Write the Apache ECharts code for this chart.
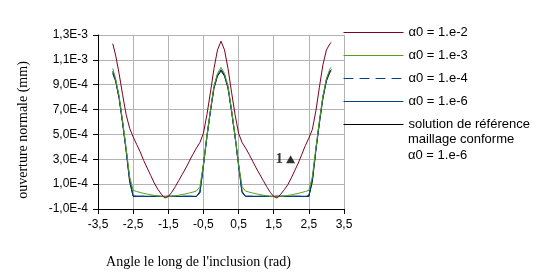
<!DOCTYPE html>
<html>
<head>
<meta charset="utf-8">
<script src="https://cdn.jsdelivr.net/npm/echarts@6/dist/echarts.min.js"></script>
<style>
html,body{margin:0;padding:0;background:#fff;}
#c{width:538px;height:277px;}
</style>
</head>
<body>
<div id="c"></div>
<script>
// Angles (rad)
const angles = [-3.08, -3.0, -2.9, -2.8, -2.7, -2.6, -2.5, -2.4, -2.3, -2.2, -2.1, -2.0, -1.9, -1.8, -1.7, -1.6,
  -1.5, -1.4, -1.3, -1.2, -1.1, -1.0, -0.9, -0.8, -0.7, -0.6, -0.5, -0.4, -0.3, -0.2, -0.1, 0.0,
  0.1, 0.2, 0.3, 0.4, 0.5, 0.6, 0.7, 0.8, 0.9, 1.0, 1.1, 1.2, 1.3, 1.4, 1.5, 1.6,
  1.7, 1.8, 1.9, 2.0, 2.1, 2.2, 2.3, 2.4, 2.5, 2.6, 2.7, 2.8, 2.9, 3.0, 3.1, 3.14];

// ouverture normale (mm)
const alpha_1e2 = [12.3e-4, 11.4e-4, 9.9e-4, 8.2e-4, 6.6e-4, 5.5e-4, 4.8e-4, 4.2e-4, 3.6e-4, 2.9e-4, 2.3e-4, 1.7e-4, 1.1e-4, 0.6e-4, 0.2e-4, -0.12e-4,
  0.0, 0.35e-4, 0.8e-4, 1.3e-4, 1.8e-4, 2.3e-4, 2.85e-4, 3.4e-4, 3.9e-4, 4.35e-4, 5.1e-4, 6.6e-4, 8.4e-4, 10.3e-4, 11.8e-4, 12.5e-4,
  11.8e-4, 10.3e-4, 8.4e-4, 6.6e-4, 5.1e-4, 4.35e-4, 3.9e-4, 3.4e-4, 2.85e-4, 2.3e-4, 1.8e-4, 1.3e-4, 0.8e-4, 0.35e-4, 0.0, -0.12e-4,
  0.2e-4, 0.55e-4, 0.95e-4, 1.5e-4, 2.1e-4, 2.7e-4, 3.4e-4, 4.1e-4, 4.7e-4, 5.4e-4, 6.9e-4, 8.8e-4, 10.6e-4, 11.8e-4, 12.3e-4, 12.4e-4];

const alpha_1e3 = [10.3e-4, 9.5e-4, 8.1e-4, 6.1e-4, 3.9e-4, 1.6e-4, 0.5e-4, 0.41e-4, 0.33e-4, 0.26e-4, 0.2e-4, 0.14e-4, 0.09e-4, 0.05e-4, 0.02e-4, 0.0,
  0.0, 0.03e-4, 0.06e-4, 0.11e-4, 0.17e-4, 0.22e-4, 0.29e-4, 0.36e-4, 0.44e-4, 0.8e-4, 2.6e-4, 4.9e-4, 7.0e-4, 8.9e-4, 9.9e-4, 10.4e-4,
  9.9e-4, 8.9e-4, 7.0e-4, 4.9e-4, 2.6e-4, 0.8e-4, 0.44e-4, 0.36e-4, 0.29e-4, 0.22e-4, 0.17e-4, 0.11e-4, 0.06e-4, 0.03e-4, 0.0, 0.0,
  0.02e-4, 0.05e-4, 0.09e-4, 0.14e-4, 0.2e-4, 0.26e-4, 0.33e-4, 0.41e-4, 0.5e-4, 1.6e-4, 3.9e-4, 6.1e-4, 8.1e-4, 9.5e-4, 10.3e-4, 10.4e-4];

const alpha_1e4 = [10.1e-4, 9.4e-4, 8.0e-4, 6.0e-4, 3.8e-4, 1.4e-4, 0.06e-4, 0.03e-4, 0.03e-4, 0.03e-4, 0.03e-4, 0.03e-4, 0.03e-4, 0.03e-4, 0.03e-4, 0.03e-4,
  0.03e-4, 0.03e-4, 0.03e-4, 0.03e-4, 0.03e-4, 0.03e-4, 0.03e-4, 0.03e-4, 0.03e-4, 0.3e-4, 2.5e-4, 4.8e-4, 6.9e-4, 8.8e-4, 9.8e-4, 10.2e-4,
  9.8e-4, 8.8e-4, 6.9e-4, 4.8e-4, 2.5e-4, 0.3e-4, 0.03e-4, 0.03e-4, 0.03e-4, 0.03e-4, 0.03e-4, 0.03e-4, 0.03e-4, 0.03e-4, 0.03e-4, 0.03e-4,
  0.03e-4, 0.03e-4, 0.03e-4, 0.03e-4, 0.03e-4, 0.03e-4, 0.03e-4, 0.03e-4, 0.06e-4, 1.4e-4, 3.8e-4, 6.0e-4, 8.0e-4, 9.4e-4, 10.1e-4, 10.2e-4];

const alpha_1e6 = [10.0e-4, 9.4e-4, 8.0e-4, 6.0e-4, 3.8e-4, 1.4e-4, 0.05e-4, 0.02e-4, 0.02e-4, 0.02e-4, 0.02e-4, 0.02e-4, 0.02e-4, 0.02e-4, 0.02e-4, 0.02e-4,
  0.02e-4, 0.02e-4, 0.02e-4, 0.02e-4, 0.02e-4, 0.02e-4, 0.02e-4, 0.02e-4, 0.02e-4, 0.3e-4, 2.5e-4, 4.8e-4, 6.9e-4, 8.8e-4, 9.8e-4, 10.2e-4,
  9.8e-4, 8.8e-4, 6.9e-4, 4.8e-4, 2.5e-4, 0.3e-4, 0.02e-4, 0.02e-4, 0.02e-4, 0.02e-4, 0.02e-4, 0.02e-4, 0.02e-4, 0.02e-4, 0.02e-4, 0.02e-4,
  0.02e-4, 0.02e-4, 0.02e-4, 0.02e-4, 0.02e-4, 0.02e-4, 0.02e-4, 0.02e-4, 0.05e-4, 1.4e-4, 3.8e-4, 6.0e-4, 8.0e-4, 9.4e-4, 10.1e-4, 10.2e-4];

const reference = [9.9e-4, 9.3e-4, 7.9e-4, 5.9e-4, 3.7e-4, 1.2e-4, 0.01e-4, 0.01e-4, 0.01e-4, 0.01e-4, 0.01e-4, 0.01e-4, 0.01e-4, 0.01e-4, 0.01e-4, 0.01e-4,
  0.01e-4, 0.01e-4, 0.01e-4, 0.01e-4, 0.01e-4, 0.01e-4, 0.01e-4, 0.01e-4, 0.01e-4, 0.4e-4, 2.6e-4, 4.9e-4, 6.9e-4, 8.7e-4, 9.7e-4, 10.1e-4,
  9.7e-4, 8.7e-4, 6.9e-4, 4.9e-4, 2.6e-4, 0.4e-4, 0.01e-4, 0.01e-4, 0.01e-4, 0.01e-4, 0.01e-4, 0.01e-4, 0.01e-4, 0.01e-4, 0.01e-4, 0.01e-4,
  0.01e-4, 0.01e-4, 0.01e-4, 0.01e-4, 0.01e-4, 0.01e-4, 0.01e-4, 0.01e-4, 0.01e-4, 1.2e-4, 3.7e-4, 5.9e-4, 7.9e-4, 9.3e-4, 10.0e-4, 10.1e-4];

const seriesNames = ['α0 = 1.e-2', 'α0 = 1.e-3', 'α0 = 1.e-4', 'α0 = 1.e-6',
  'solution de référence\nmaillage conforme\nα0 = 1.e-6'];

// marker "1" point
const markerPoint = [[1.98, 3.0e-4]];
const markerLabel = '1';

const xTicks = {min: -3.5, max: 3.5, interval: 1};
const yTicks = {min: -1.0e-4, max: 1.3e-3, interval: 2.0e-4};

function pairs(ys) { return angles.map((a, i) => [a, ys[i]]); }

const chart = echarts.init(document.getElementById('c'), null, {renderer: 'canvas'});
const sans = '"Liberation Sans", Arial, sans-serif';
const serif = '"Liberation Serif", "Times New Roman", serif';

function lineSeries(name, data, color, type, z) {
  return {
    name: name, type: 'line', data: pairs(data), symbol: 'none', showSymbol: false, z: z,
    lineStyle: {color: color, width: 1, type: type},
    itemStyle: {color: color},
    emphasis: {disabled: true}
  };
}

chart.setOption({
  animation: false,
  backgroundColor: '#ffffff',
  grid: {left: 98, top: 35, width: 246, height: 174, containLabel: false},
  xAxis: {
    type: 'value', min: xTicks.min, max: xTicks.max, interval: xTicks.interval,
    axisLine: {show: true, onZero: false, lineStyle: {color: '#000', width: 1}},
    axisTick: {show: true, inside: false, length: 5, lineStyle: {color: '#000'}},
    axisLabel: {color: '#000', fontSize: 12, fontFamily: sans, margin: 10,
      formatter: v => String(Math.round(v * 10) / 10).replace('.', ',')},
    splitLine: {show: true, lineStyle: {color: '#b3b3b3', width: 1}}
  },
  yAxis: {
    type: 'value', min: yTicks.min, max: yTicks.max, interval: yTicks.interval,
    axisLine: {show: true, onZero: false, lineStyle: {color: '#000', width: 1}},
    axisTick: {show: true, inside: false, length: 5, lineStyle: {color: '#000'}},
    axisLabel: {color: '#000', fontSize: 12, fontFamily: sans, margin: 10,
      formatter: v => v.toExponential(1).replace('.', ',').replace('e', 'E').replace('+', '')},
    splitLine: {show: true, lineStyle: {color: '#b3b3b3', width: 1}}
  },
  legend: {
    orient: 'vertical', left: 343, top: 25.5, padding: 0,
    itemWidth: 60, itemHeight: 13, itemGap: 9,
    data: seriesNames,
    selectedMode: false,
    itemStyle: {opacity: 0},
    lineStyle: {width: 1},
    formatter: name => name.split('\n')[0],
    textStyle: {color: '#000', fontSize: 13, fontFamily: sans, lineHeight: 14}
  },
  graphic: [
    {type: 'text', x: 23, y: 130, rotation: Math.PI / 2,
      style: {text: 'ouverture normale (mm)', font: '14px ' + serif, fill: '#000', align: 'center', verticalAlign: 'middle'}},
    {type: 'text', x: 198.5, y: 262,
      style: {text: "Angle le long de l'inclusion (rad)", font: '14px ' + serif, fill: '#000', align: 'center', verticalAlign: 'middle'}},
    {type: 'text', x: 408, y: 132,
      style: {text: seriesNames[4].split('\n').slice(1).join('\n'), font: '13px ' + sans, lineHeight: 15.5, fill: '#000', align: 'left', verticalAlign: 'top'}}
  ],
  series: [
    lineSeries(seriesNames[0], alpha_1e2, '#7e0021', 'solid', 5),
    lineSeries(seriesNames[1], alpha_1e3, '#579d1c', 'solid', 4),
    lineSeries(seriesNames[2], alpha_1e4, '#004586', [10, 6], 3),
    lineSeries(seriesNames[3], alpha_1e6, '#004586', 'solid', 2),
    lineSeries(seriesNames[4], reference, '#000000', 'solid', 1),
    {
      type: 'scatter', data: markerPoint, symbol: 'triangle', symbolSize: [9, 8], z: 6,
      itemStyle: {color: '#000'},
      label: {show: true, position: 'left', distance: 3, formatter: () => markerLabel,
        color: '#000', fontSize: 15, fontWeight: 700, fontFamily: serif},
      emphasis: {disabled: true}
    }
  ]
});
</script>
</body>
</html>
